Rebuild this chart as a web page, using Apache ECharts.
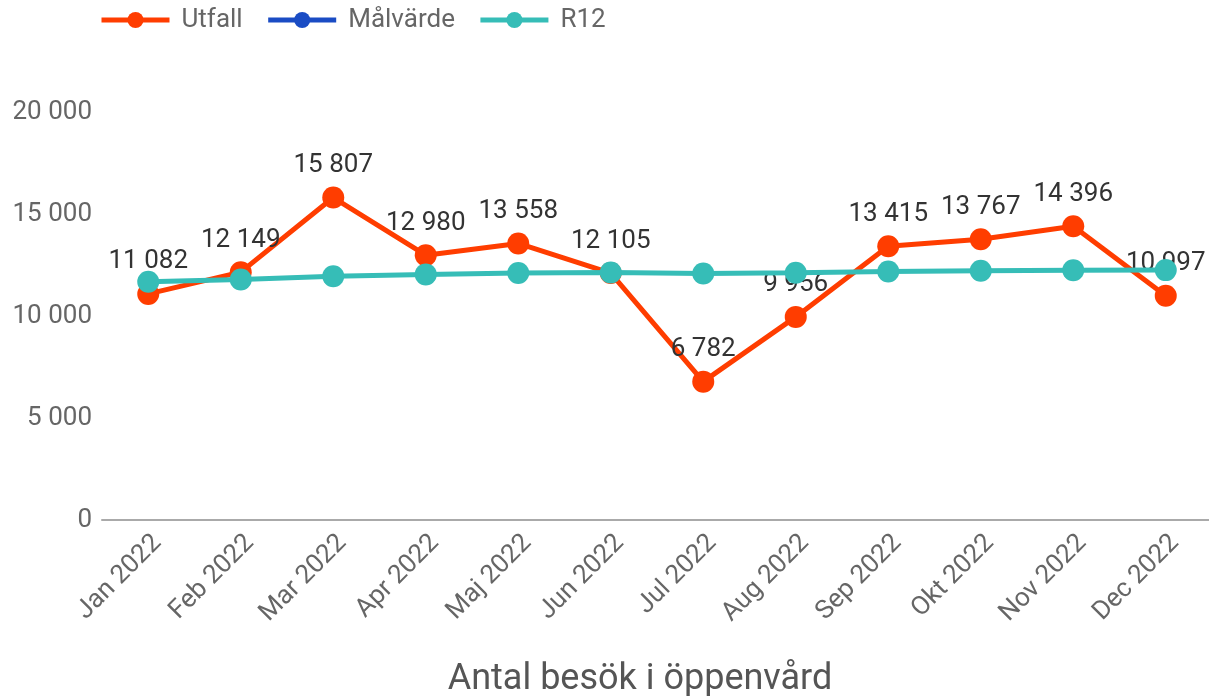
<!DOCTYPE html>
<html>
<head>
<meta charset="utf-8">
<script src="https://cdn.jsdelivr.net/npm/echarts@6/dist/echarts.min.js"></script>
<style>
  html, body { margin: 0; padding: 0; background: #fff; }
  #main { width: 1209px; height: 696px; }
</style>
</head>
<body>
<div id="main"></div>
<script>
var months = ['Jan 2022', 'Feb 2022', 'Mar 2022', 'Apr 2022', 'Maj 2022', 'Jun 2022',
  'Jul 2022', 'Aug 2022', 'Sep 2022', 'Okt 2022', 'Nov 2022', 'Dec 2022'];
var utfall = [11082, 12149, 15807, 12980, 13558, 12105, 6782, 9956, 13415, 13767, 14396, 10997];
var malvarde = [];
var r12 = [11680, 11790, 11950, 12040, 12110, 12130, 12080, 12120, 12180, 12220, 12240, 12250];

// tusental med mellanslag
function fmt(v) {
  return String(v).replace(/\B(?=(\d{3})+(?!\d))/g, ' ');
}

var myChart = echarts.init(document.getElementById('main'));
var option = {
  textStyle: { fontFamily: 'Roboto' },
  animation: false,
  legend: {
    left: 94,
    top: 2,
    itemWidth: 68,
    itemHeight: 20,
    itemGap: 23,
    lineStyle: { width: 5 },
    textStyle: { fontSize: 26, color: '#666', fontFamily: 'Roboto', padding: [0, 0, 0, 7] },
    data: ['Utfall', 'Målvärde', 'R12']
  },
  grid: { left: 102, top: 112, width: 1110, height: 408, containLabel: false, outerBoundsMode: 'none' },
  xAxis: {
    type: 'category',
    data: months,
    boundaryGap: true,
    name: 'Antal besök i öppenvård',
    nameLocation: 'middle',
    nameGap: 142,
    nameTextStyle: { fontSize: 36, color: '#555', fontFamily: 'Roboto', padding: [0, 34, 0, 0] },
    axisLine: { lineStyle: { color: '#aaa', width: 2 } },
    axisTick: { show: false },
    axisLabel: { rotate: 45, fontSize: 26, color: '#666', margin: 10, interval: 0, verticalAlign: 'top' }
  },
  yAxis: {
    type: 'value',
    min: 0,
    max: 20000,
    interval: 5000,
    splitLine: { show: false },
    axisLine: { show: false },
    axisTick: { show: false },
    axisLabel: { fontSize: 26, color: '#666', margin: 10, formatter: fmt }
  },
  series: [
    {
      name: 'Utfall',
      type: 'line',
      data: utfall,
      color: '#ff3d00',
      symbol: 'circle',
      symbolSize: 22,
      lineStyle: { width: 5 },
      z: 2,
      label: {
        show: true,
        position: 'top',
        distance: 8,
        fontSize: 26,
        color: '#333',
        formatter: function (p) { return fmt(p.value); }
      }
    },
    {
      name: 'Målvärde',
      type: 'line',
      data: malvarde,
      color: '#1a4cc4',
      symbol: 'circle',
      symbolSize: 22,
      lineStyle: { width: 5 }
    },
    {
      name: 'R12',
      type: 'line',
      data: r12,
      color: '#36bdb7',
      symbol: 'circle',
      symbolSize: 22,
      lineStyle: { width: 5 },
      z: 3
    }
  ]
};
myChart.setOption(option);
</script>
</body>
</html>
